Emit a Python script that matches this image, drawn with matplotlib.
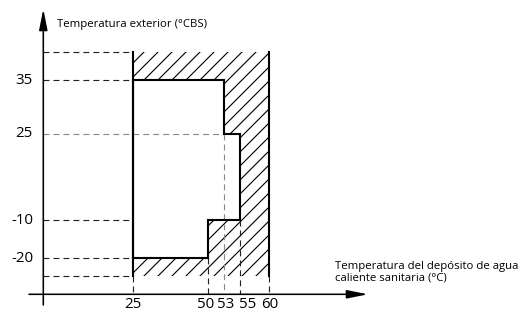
import numpy as np
import matplotlib

matplotlib.use("Agg")
import matplotlib.pyplot as plt
from matplotlib.patches import Polygon, Rectangle

plt.rcParams["font.family"] = ["Open Sans", "DejaVu Sans"]
plt.rcParams["hatch.linewidth"] = 0.65
plt.rcParams["lines.scale_dashes"] = False

# schematic diagram: values are labelled, spacing is not to scale
x_ticks = [25, 50, 53, 55, 60]
y_ticks = [35, 25, -10, -20]
x_origin, y_origin = 0, -30
y_top, y_bottom = 43, -25

# operating range outline (water tank temp, outdoor temp)
edge_x = [25, 25, 53, 53, 55, 55, 50, 50, 25]
edge_y = [-20, 35, 35, 25, 25, -10, -10, -20, -20]

# horizontal guides: (y, x end), vertical guides: (x, y start)
h_guides = [(y_top, 25), (35, 25), (25, 53), (-10, 25), (-20, 25), (y_bottom, 25)]
v_guides = [(25, y_bottom), (50, -20), (53, 25), (55, -10), (60, y_bottom)]
light_guides = {("h", 25), ("v", 53)}

x_label = "Temperatura del depósito de agua\ncaliente sanitaria (°C)"
y_label = "Temperatura exterior (°CBS)"

# piecewise mapping of values to drawing positions (pixels)
XV = [-12, 0, 25, 50, 53, 55, 60, 134]
XP = [0, 43.3, 133, 208.3, 224, 240.3, 268.7, 526]
YV = [-35, -30, -25, -20, -10, 25, 35, 43, 60]
YP = [313 - p for p in [313, 294.3, 275.7, 258.3, 220, 133.7, 80.3, 51.7, 0]]

DPI = 126
W, H = 526, 313

fig = plt.figure(figsize=(W / DPI, H / DPI), dpi=DPI)
ax = fig.add_axes([0, 0, 1, 1])
ax.set_xscale("function", functions=(lambda v: np.interp(v, XV, XP), lambda p: np.interp(p, XP, XV)))
ax.set_yscale("function", functions=(lambda v: np.interp(v, YV, YP), lambda p: np.interp(p, YP, YV)))
ax.set_xlim(XV[0], XV[-1])
ax.set_ylim(YV[0], YV[-1])
ax.axis("off")

# hatched outer band, white operating area on top
ax.add_patch(Rectangle((x_ticks[0], y_bottom), x_ticks[-1] - x_ticks[0], y_top - y_bottom,
                       facecolor="white", edgecolor="black", linewidth=0, hatch="///", zorder=1))
ax.add_patch(Polygon(np.column_stack([edge_x, edge_y]), closed=True,
                     facecolor="white", edgecolor="none", zorder=2))

dash = dict(linewidth=0.65, dashes=(3.4, 2.3), zorder=3)
for y, xe in h_guides:
    col = "#8a8a8a" if ("h", y) in light_guides else "#222222"
    ax.plot([x_origin, xe], [y, y], color=col, **dash)
for x, ys in v_guides:
    col = "#8a8a8a" if ("v", x) in light_guides else "#222222"
    ax.plot([x, x], [ys, y_origin], color=col, **dash)

ax.plot(edge_x, edge_y, color="black", linewidth=1.2, solid_joinstyle="miter", zorder=4)
for x in (x_ticks[0], x_ticks[-1]):
    ax.plot([x, x], [y_bottom, y_top], color="black", linewidth=1.2, zorder=4)

# axes arrows
arrow = dict(arrowstyle="-|>,head_length=1.0,head_width=0.2", color="black",
             linewidth=0.9, mutation_scale=10, shrinkA=0, shrinkB=0)
ax.annotate("", xy=(368 / W, y_origin), xytext=(29 / W, y_origin),
            xycoords=ax.get_yaxis_transform(), textcoords=ax.get_yaxis_transform(),
            arrowprops=arrow)
ax.annotate("", xy=(x_origin, 1 - 9 / H), xytext=(x_origin, 1 - 305 / H),
            xycoords=ax.get_xaxis_transform(), textcoords=ax.get_xaxis_transform(),
            arrowprops=arrow)

# crowded x labels are nudged apart (points)
x_nudge = [0, -1.5, 1.2, 4, 0.8]
for y in y_ticks:
    ax.text(33 / W, y, f"{y}", transform=ax.get_yaxis_transform(),
            ha="right", va="center", fontsize=8.6)
for x, dx in zip(x_ticks, x_nudge):
    ax.annotate(f"{x}", xy=(x, 1 - 304 / H), xycoords=ax.get_xaxis_transform(),
                xytext=(dx, 0), textcoords="offset points",
                ha="center", va="center", fontsize=8.6)

ax.text(57 / W, 1 - 25 / H, y_label, transform=ax.transAxes,
        ha="left", va="center", fontsize=6.5)
ax.text(335 / W, 1 - 272 / H, x_label, transform=ax.transAxes,
        ha="left", va="center", fontsize=6.5, linespacing=1.0)

fig.savefig("out.png", dpi=DPI)
